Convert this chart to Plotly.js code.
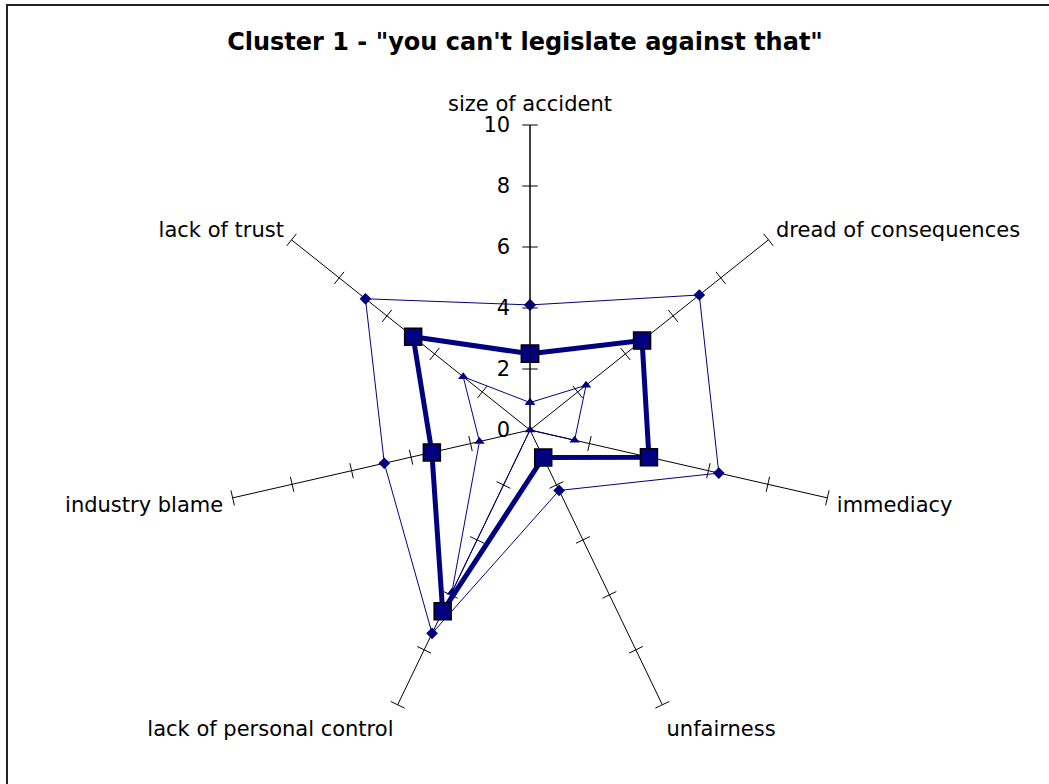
<!DOCTYPE html>
<html>
<head>
<meta charset="utf-8">
<script src="https://cdn.plot.ly/plotly-3.0.1.min.js"></script>
<style>
  html, body { margin: 0; padding: 0; background: #fff; }
  #chart { width: 1049px; height: 784px; }
</style>
</head>
<body>
<div id="chart"></div>
<script>
// axes of the radar, clockwise from the top
const categories = [
  'size of accident',
  'dread of consequences',
  'immediacy',
  'unfairness',
  'lack of personal control',
  'industry blame',
  'lack of trust',
];

const meanScores = [2.5, 4.7, 4.0, 1.0, 6.6, 3.3, 4.9];
const maxScores = [4.1, 7.1, 6.35, 2.2, 7.4, 4.9, 6.9];
const minScores = [0.9, 2.35, 1.5, 0, 5.9, 1.7, 2.8];

const radialTicks = [0, 2, 4, 6, 8, 10];

const navy = '#000080';

// close the loop for each series
function closed(arr) {
  return arr.concat([arr[0]]);
}

// tick crosses on every spoke (Excel style)
const tickR = [];
const tickTheta = [];
const tickAngle = [];
categories.forEach((cat, i) => {
  radialTicks.slice(1).forEach(v => {
    tickR.push(v);
    tickTheta.push(cat);
    tickAngle.push(i * 360 / categories.length);
  });
});

const data = [
  {
    type: 'scatterpolar',
    r: tickR,
    theta: tickTheta,
    mode: 'markers',
    marker: { symbol: 'line-ew', size: 11, angle: tickAngle, line: { color: '#000', width: 1 } },
    hoverinfo: 'skip',
  },
  {
    type: 'scatterpolar',
    r: closed(maxScores),
    theta: closed(categories),
    mode: 'lines+markers',
    line: { color: navy, width: 1 },
    marker: { symbol: 'diamond', size: 9, color: navy },
    name: 'max',
  },
  {
    type: 'scatterpolar',
    r: closed(minScores),
    theta: closed(categories),
    mode: 'lines+markers',
    line: { color: navy, width: 1 },
    marker: { symbol: 'triangle-up', size: 9, color: navy },
    name: 'min',
  },
  {
    type: 'scatterpolar',
    r: closed(meanScores),
    theta: closed(categories),
    mode: 'lines+markers',
    line: { color: navy, width: 5 },
    marker: { symbol: 'square', size: 17, color: navy, line: { color: '#000', width: 1.5 } },
    name: 'mean',
  },
];

const W = 1049;
const H = 784;
const cx = 530;
const cy = 430;
const R = 305;

const layout = {
  width: W,
  height: H,
  margin: { l: 0, r: 0, t: 0, b: 0 },
  paper_bgcolor: '#fff',
  showlegend: false,
  font: { family: 'DejaVu Sans, Verdana, sans-serif', size: 21, color: '#000' },
  title: {
    text: 'Cluster 1 - "you can\'t legislate against that"',
    font: { family: 'DejaVu Sans, sans-serif', size: 24, color: '#000', weight: 'bold' },
    x: 525 / W,
    xanchor: 'center',
    y: 1 - 42 / H,
    yanchor: 'middle',
    yref: 'container',
  },
  polar: {
    domain: {
      x: [(cx - R) / W, (cx + R) / W],
      y: [(H - cy - R) / H, (H - cy + R) / H],
    },
    bgcolor: '#fff',
    angularaxis: {
      direction: 'clockwise',
      rotation: 90,
      showgrid: true,
      gridcolor: '#000',
      gridwidth: 1,
      showline: false,
      ticks: 'outside',
      ticklen: 5,
      tickcolor: 'rgba(0,0,0,0)',
      tickfont: { size: 21 },
    },
    radialaxis: {
      range: [0, 10],
      angle: 90,
      side: 'counterclockwise',
      tickangle: 90,
      tickvals: radialTicks,
      showgrid: false,
      showline: true,
      linecolor: '#000',
      linewidth: 1,
      ticks: 'outside',
      ticklen: 12,
      tickcolor: 'rgba(0,0,0,0)',
      tickfont: { size: 21 },
    },
  },
  shapes: [
    {
      type: 'rect',
      xref: 'paper',
      yref: 'paper',
      x0: 7 / W,
      x1: 1.01,
      y0: -0.01,
      y1: 1 - 5 / H,
      line: { color: '#222', width: 2 },
    },
  ],
};

Plotly.newPlot('chart', data, layout, { displayModeBar: false, staticPlot: true });
</script>
</body>
</html>
